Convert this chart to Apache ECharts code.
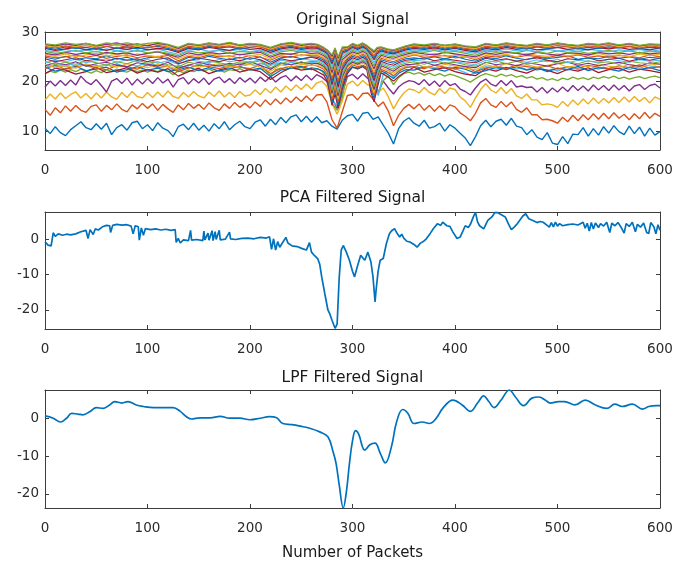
<!DOCTYPE html>
<html><head><meta charset="utf-8">
<script src="https://cdn.jsdelivr.net/npm/echarts@6/dist/echarts.min.js"></script>
<style>html,body{margin:0;padding:0;background:#fff}#c{width:686px;height:562px}</style>
</head><body><div id="c"></div>
<script>
// ---------- tick labels / axes ----------
const xTicks = [0, 100, 200, 300, 400, 500, 600];
const topYTicks = [10, 20, 30];
const pcaYTicks = [-20, -10, 0];
const lpfYTicks = [-20, -10, 0];
const titles = ['Original Signal', 'PCA Filtered Signal', 'LPF Filtered Signal'];
const xLabel = 'Number of Packets';
const matlabColors = ['#0072BD', '#D95319', '#EDB120', '#7E2F8E', '#77AC30', '#4DBEEE', '#A2142F'];

// ---------- Original signal: packet indices ----------
const topFineX = [];
for (let p = 0; p <= 600; p += 5) topFineX.push(p);
const topBandX = [0,10,20,30,40,50,60,70,80,90,100,110,120,130,140,150,160,170,180,190,200,210,220,230,240,250,260,
  266,272,276,280,283,286,290,295,300,305,310,314,318,321,324,328,334,340,346,352,
  360,370,380,390,400,410,420,430,440,450,460,470,480,490,500,510,520,530,540,550,560,570,580,590,600];

// ---------- Original signal: the six separated subcarriers (sampled every 5 packets) ----------
const sub01 = [10.6,9.5,10.9,9.7,9.1,10.3,11.1,11.9,10.7,10.3, 11.5,10.4,11.6,9.3,10.7,11.3,10.2,11.7,12.0,10.5,
  11.3,10.1,11.7,10.6,10.1,8.9,10.9,11.4,10.3,11.6, 10.2,11.2,10.0,11.5,10.5,11.9,10.3,11.3,12.0,10.9,
  10.5,11.8,12.3,11.0,12.4,11.3,12.8,11.7,12.9,13.3, 11.9,13.0,11.8,12.9,11.7,12.1,11.0,10.4,12.2,13.1,
  13.4,12.0,13.6,13.8,12.4,12.9,11.2,9.6,7.4,10.5, 12.0,12.7,11.6,11.0,12.2,10.6,10.9,11.6,10.0,11.3,
  10.6,9.6,8.6,7.1,8.9,11.1,12.2,10.9,12.0,12.4, 11.2,12.6,11.0,10.7,9.3,10.3,8.8,8.3,9.7,7.6,
  7.3,8.9,7.5,9.4,9.3,10.7,9.0,10.5,9.2,10.9, 9.6,11.1,9.9,9.3,11.0,9.5,10.8,9.0,10.6,9.2, 9.9];
const sub02 = [14.4,13.2,14.7,13.7,15.1,14.0,15.2,14.2,13.8,15.0, 15.3,14.0,15.2,14.3,15.5,14.4,13.9,15.3,14.5,15.6,
  14.6,15.5,14.2,15.4,14.5,13.8,15.3,14.3,15.6,14.6, 15.4,14.4,15.7,14.7,14.2,15.5,14.6,15.8,14.8,15.6,
  14.7,15.9,15.0,16.3,15.3,16.5,15.5,16.7,15.8,16.9, 16.0,17.1,16.1,17.3,17.4,15.9,12.3,10.6,13.9,17.2,
  17.4,16.3,17.6,17.7,16.5,15.0,15.9,14.0,11.1,13.2, 14.6,15.4,14.5,15.5,14.2,15.2,14.0,15.1,14.1,15.3,
  14.9,13.7,13.0,12.1,13.6,15.7,16.6,15.3,14.8,16.0, 14.9,15.9,14.4,13.8,14.7,13.3,13.3,12.3,12.4,12.1,
  11.6,12.8,11.9,13.2,12.1,13.3,12.3,13.5,12.4,13.6, 12.5,13.7,12.6,13.4,12.3,13.5,12.5,13.8,12.6,13.6, 13.0];
const sub03 = [16.3,17.5,16.5,17.7,16.6,17.4,17.9,16.7,17.6,16.5, 17.7,16.7,17.9,16.9,16.4,17.8,16.8,18.0,17.0,16.7,
  17.8,16.8,17.9,16.9,18.1,17.0,16.6,17.8,16.9,18.0, 17.1,16.7,17.9,17.0,18.1,16.9,17.8,16.8,18.0,17.1,
  17.3,18.3,17.4,18.6,17.7,18.9,17.9,19.1,18.2,19.3, 18.4,19.5,18.5,19.7,20.1,19.0,15.6,13.4,16.1,19.5,
  20.1,19.1,20.2,19.3,19.3,17.8,18.7,16.9,14.5,16.3, 17.7,18.5,18.3,17.7,18.8,17.8,17.3,18.6,17.6,18.7,
  18.4,16.9,16.1,14.8,16.7,18.4,19.6,18.3,17.7,18.8, 17.6,18.6,17.1,16.6,17.5,16.3,16.3,15.3,15.5,15.3,
  14.8,16.0,15.0,16.3,15.3,16.5,15.5,16.7,15.6,16.6, 15.7,16.8,15.8,16.9,15.9,17.0,16.0,16.8,15.7,16.9, 16.4];
const sub04 = [18.9,20.1,19.1,20.2,19.2,20.3,19.3,21.1,20.0,19.4, 20.4,19.2,17.9,20.1,20.6,19.6,20.7,19.3,20.5,19.5,
  20.6,19.6,20.8,19.7,20.5,18.9,20.4,20.8,19.5,20.6, 19.7,20.7,19.4,20.5,20.9,19.8,20.6,19.6,20.8,19.9,
  20.7,19.7,20.9,20.0,21.0,19.9,20.8,21.2,20.1,21.1, 20.2,21.3,20.3,21.4,20.9,20.0,16.6,14.6,17.6,21.0,
  21.5,20.5,21.6,20.6,19.3,17.8,20.1,18.7,17.5,18.9, 19.7,20.2,20.0,19.4,20.4,19.2,20.1,19.0,20.2,19.2,
  19.6,18.5,18.0,17.3,18.7,19.9,20.5,19.5,19.1,20.2, 19.2,20.2,18.9,19.1,18.8,18.9,17.9,18.8,17.7,18.7,
  17.9,18.9,18.0,19.2,18.2,19.1,18.1,19.3,18.3,19.2, 18.2,19.3,18.3,19.2,18.1,19.1,19.4,18.4,19.2,19.5, 18.7];
const sub05 = [21.6,22.1,21.8,22.3,21.9,22.4,22.0,22.5,22.1,21.7, 22.2,21.8,22.4,22.0,22.5,22.1,21.9,22.4,22.0,22.3,
  21.9,22.3,22.0,22.5,22.1,21.4,22.2,21.8,22.3,22.0, 22.4,22.1,22.5,22.0,22.3,21.9,22.4,22.2,22.6,22.1,
  22.5,22.2,22.6,22.3,21.2,22.4,22.7,22.3,22.8,22.5, 22.9,22.4,22.8,22.6,22.2,21.0,15.6,14.2,16.8,22.0,
  22.9,22.5,23.1,22.7,21.0,17.6,20.2,21.1,19.4,20.8, 21.6,21.9,21.5,21.8,21.3,21.7,21.2,21.6,21.1,21.5,
  21.2,20.8,20.4,19.9,20.6,21.2,21.6,21.3,21.0,21.5, 21.1,21.4,20.9,21.2,20.7,21.0,20.5,20.8,20.3,20.6,
  20.2,20.7,20.4,20.9,20.5,20.8,20.4,20.9,20.6,21.0, 20.7,21.1,20.6,20.9,20.5,20.8,21.0,20.6,20.9,21.1, 20.8];
const sub06 = [22.8,23.2,22.9,23.4,23.0,23.5,23.1,23.6,23.2,22.9, 23.3,23.0,23.5,23.1,23.6,23.2,22.9,23.4,23.1,23.5,
  23.2,23.6,23.1,23.5,23.0,22.3,23.3,22.9,23.4,23.1, 23.5,23.2,23.6,23.1,23.4,23.0,23.5,23.2,23.7,23.3,
  23.6,23.2,23.7,23.4,22.4,23.5,23.8,23.4,23.9,23.6, 24.0,23.5,23.9,23.7,23.3,22.4,16.5,15.0,18.2,23.4,
  24.1,23.6,24.2,23.8,21.8,17.2,21.5,22.4,20.8,22.1, 22.8,23.2,22.9,23.3,22.8,23.1,22.7,23.0,22.6,22.9,
  22.6,22.2,21.8,21.3,21.9,22.6,23.0,22.8,22.5,22.9, 22.6,22.9,22.5,22.8,22.4,22.7,22.3,22.6,22.2,22.5,
  22.1,22.6,22.3,22.8,22.4,22.7,22.3,22.8,22.5,22.9, 22.6,23.0,22.5,22.8,22.4,22.7,23.0,22.6,22.9,23.1, 22.8];

// ---------- Original signal: the dense band of subcarriers (sampled on topBandX) ----------
const sub07 = [21.6,22.7,22.3,21.5,22.0,22.9,21.8,22.2,22.8,21.7,22.4,21.9,22.6,21.1,22.0,22.7,21.6,22.3,22.9,21.9,22.5,22.0,20.4,21.8,22.9,22.3,22.6,
  22.0,21.3,19.8,15.2,17.5,14.6,18.5,21.6,22.9,22.6,23.0,22.4,17.8,15.9,18.6,21.8,21.0,20.1,21.2,22.0,
  22.9,21.9,22.4,22.8,22.0,21.5,21.2,22.6,22.1,22.9,22.2,21.7,22.6,22.3,21.6,22.5,22.1,22.8,21.8,22.4,22.7,21.9,22.5,22.2,21.8];
const sub08 = [22.9,22.1,22.6,23.1,22.2,22.5,22.9,21.9,22.4,23.0,22.3,22.7,22.0,22.4,22.9,22.2,22.8,22.1,22.6,23.1,22.3,22.7,21.0,22.3,22.7,23.1,22.4,
  22.6,22.0,20.6,15.8,18.4,15.3,19.2,22.1,23.0,22.7,23.2,22.8,18.4,16.6,19.3,22.2,21.5,20.6,21.8,22.4,
  22.3,23.0,22.6,22.1,22.9,22.5,21.7,22.2,22.9,22.4,23.0,22.3,22.8,22.0,22.7,22.4,23.1,22.2,22.8,22.5,22.1,22.9,22.4,22.8,22.2];
const sub09 = [22.6,23.3,22.5,22.9,23.4,22.7,22.4,23.2,23.0,22.5,23.4,22.8,23.1,22.0,22.7,23.3,23.0,22.6,23.2,22.9,22.6,23.3,21.6,22.6,23.1,22.8,23.4,
  23.1,22.5,21.2,16.4,19.0,15.9,19.9,22.4,23.4,23.0,23.3,22.9,19.0,17.2,19.8,22.5,21.9,21.2,22.2,22.8,
  23.0,22.6,23.3,22.9,22.5,23.1,22.0,22.7,23.2,22.6,23.3,23.0,22.7,23.2,22.5,23.0,22.7,23.3,22.9,22.6,23.2,22.8,23.4,22.7,23.0];
const sub10 = [23.5,22.8,23.2,22.7,23.6,23.0,23.3,22.9,23.6,23.2,22.8,23.5,23.0,22.5,23.4,22.9,23.3,23.6,22.8,23.2,23.5,22.9,22.1,23.4,22.9,23.5,23.2,
  23.4,22.8,21.6,17.0,19.6,16.5,20.4,22.9,23.6,23.3,23.7,23.2,19.6,17.8,20.3,22.9,22.3,21.7,22.6,23.1,
  23.7,23.0,22.8,23.5,23.1,22.7,22.4,23.4,22.9,23.6,23.0,23.4,22.9,23.3,23.7,22.9,23.3,23.0,23.6,23.1,22.8,23.5,23.0,23.3,23.6];
const sub11 = [23.2,23.8,23.4,24.0,23.1,23.6,23.9,23.3,23.0,23.8,23.5,23.1,23.9,22.7,23.3,23.9,23.4,23.1,23.7,23.4,24.0,23.3,22.5,23.7,23.4,23.9,23.6,
  23.7,23.1,22.0,17.6,20.2,17.1,20.9,23.2,23.9,23.5,24.0,23.5,20.2,18.4,20.8,23.2,22.7,22.1,23.0,23.4,
  23.5,23.9,23.3,23.8,23.4,23.0,22.8,23.9,23.4,23.7,23.2,23.8,23.5,23.1,23.6,23.9,23.3,23.7,23.2,23.6,23.9,23.4,23.1,23.8,23.5];
const sub12 = [24.1,23.4,23.9,23.5,24.2,23.8,23.3,24.0,23.6,24.3,23.7,24.0,23.4,23.0,23.9,23.5,24.1,23.8,23.4,24.0,23.7,24.2,22.8,23.6,24.2,23.7,24.1,
  24.0,23.4,22.4,18.2,20.8,17.7,21.4,23.5,24.2,23.8,24.3,23.8,20.8,19.0,21.3,23.5,23.0,22.5,23.3,23.7,
  24.0,23.5,24.2,23.7,23.9,23.4,23.1,23.8,24.2,23.6,24.1,23.5,23.9,24.3,23.7,24.0,23.6,24.2,23.8,24.0,23.5,24.1,23.8,23.6,24.0];
const sub13 = [23.8,24.3,24.0,24.5,23.8,24.2,24.6,23.9,24.4,24.0,24.5,23.7,24.2,23.5,24.4,24.1,23.8,24.5,24.0,24.3,23.9,24.4,23.2,24.3,24.0,24.6,24.3,
  24.3,23.7,22.8,18.8,21.3,18.3,21.9,23.8,24.5,24.1,24.6,24.1,21.3,19.6,21.8,23.8,23.3,22.9,23.6,24.0,
  24.3,24.1,23.8,24.4,24.0,23.7,23.4,24.3,23.9,24.5,24.2,23.9,24.4,24.0,24.5,23.8,24.3,24.1,23.9,24.5,24.2,23.9,24.4,24.1,24.3];
const sub14 = [24.6,24.0,24.4,24.8,24.2,24.5,24.1,24.7,24.3,24.6,24.0,24.5,24.8,23.6,24.2,24.7,24.4,24.0,24.6,24.2,24.8,24.4,23.5,24.6,24.2,24.5,24.9,
  24.6,24.0,23.2,19.4,21.9,18.9,22.4,24.1,24.8,24.4,24.9,24.4,21.9,20.2,22.3,24.1,23.6,23.3,23.9,24.3,
  24.5,24.8,24.2,24.6,24.3,24.0,23.8,24.7,24.3,24.6,24.1,24.5,24.8,24.3,24.0,24.6,24.4,24.8,24.2,24.5,24.7,24.1,24.6,24.3,24.7];
const sub15 = [24.9,24.5,25.1,24.4,24.8,24.6,25.2,24.5,24.9,24.3,24.8,25.1,24.4,23.9,24.9,24.5,25.1,24.7,24.4,24.9,24.5,25.0,23.9,24.8,25.1,24.6,25.0,
  24.9,24.3,23.6,20.0,22.4,19.5,22.9,24.4,25.1,24.7,25.2,24.7,22.4,20.8,22.8,24.4,24.0,23.7,24.2,24.6,
  24.8,24.5,25.0,24.6,25.1,24.5,24.1,24.9,24.6,25.2,24.7,24.4,25.0,24.6,24.9,25.2,24.5,24.8,24.6,25.1,24.7,25.0,24.5,24.9,24.7];
const sub16 = [25.2,24.8,25.0,25.4,24.9,25.3,24.7,25.1,25.4,24.8,25.2,24.9,25.3,24.2,25.1,24.8,25.4,25.0,25.2,24.7,25.3,24.9,24.3,25.2,24.9,25.4,25.2,
  25.2,24.6,24.0,20.6,23.0,20.1,23.4,24.7,25.4,25.0,25.5,25.0,22.9,21.4,23.3,24.7,24.3,24.0,24.5,24.9,
  25.4,24.9,25.1,25.3,24.8,25.0,24.4,25.2,25.0,25.4,24.9,25.3,25.1,24.8,25.3,25.0,25.4,24.9,25.2,24.9,25.3,25.1,24.8,25.4,25.0];
const sub17 = [25.5,25.1,25.6,25.0,25.4,25.7,25.2,25.5,25.1,25.6,25.3,25.0,25.6,24.6,25.4,25.1,25.7,25.3,25.0,25.6,25.2,25.5,24.6,25.4,25.7,25.2,25.6,
  25.5,24.9,24.3,21.2,23.5,20.7,23.9,25.0,25.7,25.3,25.8,25.3,23.4,22.0,23.8,25.0,24.6,24.4,24.8,25.2,
  25.5,25.2,25.7,25.1,25.4,25.0,24.7,25.6,25.2,25.5,25.0,25.7,25.3,25.1,25.6,25.2,25.5,25.3,25.7,25.2,25.4,25.0,25.6,25.3,25.5];
const sub18 = [25.7,25.4,25.9,25.5,25.8,25.3,25.9,25.6,25.8,25.3,25.7,26.0,25.5,24.9,25.8,25.4,25.9,25.6,25.8,25.4,25.7,25.9,24.9,25.7,25.5,26.0,25.7,
  25.8,25.2,24.6,21.8,24.0,21.3,24.4,25.3,26.0,25.6,26.1,25.6,23.9,22.6,24.3,25.3,24.9,24.7,25.1,25.5,
  25.9,25.6,25.4,25.9,25.6,25.3,25.0,25.8,25.5,25.9,25.7,25.4,25.9,25.6,25.3,25.8,25.7,25.4,25.9,25.6,25.8,25.5,25.9,25.6,25.8];
const sub19 = [26.1,25.7,26.0,26.3,25.8,26.1,25.6,26.2,25.9,26.3,25.8,26.1,25.7,25.2,26.2,25.8,26.0,26.3,25.7,26.1,25.9,26.2,25.2,26.0,26.3,25.9,26.2,
  26.1,25.5,24.9,22.4,24.5,21.9,24.9,25.6,26.3,25.9,26.4,25.9,24.4,23.2,24.8,25.6,25.2,25.0,25.4,25.8,
  26.1,25.9,26.3,25.8,26.1,25.7,25.3,26.2,25.9,26.1,25.8,26.3,26.0,25.7,26.2,25.9,26.1,25.7,26.0,26.3,25.9,26.2,25.8,26.1,26.0];
const sub20 = [26.3,26.0,26.5,26.1,26.4,26.0,26.6,26.2,26.5,26.1,26.4,26.6,26.0,25.5,26.3,26.6,26.1,26.4,26.2,26.5,26.0,26.4,25.6,26.3,26.6,26.2,26.5,
  26.4,25.8,25.2,23.0,25.0,22.5,25.3,25.9,26.6,26.2,26.7,26.2,24.9,23.8,25.2,25.9,25.5,25.3,25.7,26.1,
  26.4,26.2,26.5,26.1,26.3,26.0,25.7,26.4,26.1,26.6,26.2,26.4,26.0,26.5,26.2,26.4,26.1,26.5,26.3,26.0,26.4,26.2,26.5,26.1,26.4];
const sub21 = [26.7,26.3,26.6,26.9,26.4,26.7,26.3,26.8,26.5,26.9,26.4,26.7,26.5,25.9,26.7,26.4,26.9,26.6,26.3,26.8,26.5,26.7,25.9,26.6,26.9,26.5,26.8,
  26.7,26.1,25.5,23.6,25.5,23.1,25.7,26.2,26.9,26.5,27.0,26.5,25.4,24.4,25.6,26.2,25.8,25.6,26.0,26.4,
  26.7,26.5,26.8,26.4,26.7,26.3,26.0,26.7,26.4,26.9,26.5,26.8,26.4,26.6,26.9,26.5,26.7,26.4,26.8,26.6,26.9,26.5,26.7,26.4,26.8];
const sub22 = [26.9,26.5,27.0,26.7,26.9,26.5,27.1,26.7,27.0,26.6,26.9,27.1,26.7,26.1,26.9,26.6,27.1,26.8,27.0,26.6,26.9,27.1,26.2,26.8,27.1,26.7,27.0,
  26.9,26.3,25.7,24.0,25.8,23.5,26.0,26.4,27.1,26.7,27.2,26.7,25.7,24.8,25.9,26.4,26.0,25.8,26.2,26.6,
  26.9,26.7,27.0,26.6,26.9,26.5,26.3,26.9,26.7,27.1,26.8,26.6,27.0,26.7,26.9,27.1,26.6,26.9,26.7,27.0,26.8,27.1,26.7,26.9,26.8];
const sub23 = [27.1,26.8,27.2,26.9,27.3,26.8,27.1,27.4,26.9,27.2,26.8,27.3,27.0,26.3,27.1,26.9,27.3,27.0,27.2,26.8,27.3,27.0,26.4,27.1,27.3,26.9,27.2,
  27.1,26.5,25.9,24.4,26.1,23.9,26.3,26.6,27.3,26.9,27.4,26.9,26.0,25.2,26.2,26.6,26.2,26.0,26.4,26.8,
  27.1,26.9,27.3,26.8,27.1,26.7,26.5,27.1,26.9,27.3,27.0,26.8,27.2,26.9,27.3,27.0,26.8,27.2,27.0,27.3,26.9,27.1,26.8,27.2,27.0];
const sub24 = [27.3,27.0,27.5,27.1,27.4,27.0,27.6,27.2,27.5,27.1,27.4,27.6,27.1,26.5,27.4,27.1,27.5,27.2,27.6,27.1,27.4,27.2,26.6,27.3,27.6,27.1,27.5,
  27.3,26.7,26.1,24.8,26.4,24.3,26.6,26.8,27.5,27.1,27.6,27.1,26.3,25.6,26.5,26.8,26.4,26.2,26.6,27.0,
  27.3,27.1,27.5,27.0,27.3,26.9,26.7,27.4,27.1,27.5,27.2,27.0,27.4,27.1,27.5,27.2,27.0,27.4,27.2,27.5,27.1,27.4,27.0,27.4,27.2];
const sub25 = [27.5,27.2,27.6,27.3,27.7,27.2,27.5,27.8,27.3,27.6,27.2,27.7,27.4,26.7,27.6,27.3,27.7,27.4,27.8,27.3,27.6,27.4,26.8,27.5,27.8,27.3,27.6,
  27.4,26.8,26.2,25.1,26.6,24.7,26.8,26.9,27.6,27.2,27.7,27.2,26.5,25.9,26.7,26.9,26.5,26.3,26.7,27.1,
  27.5,27.2,27.6,27.3,27.5,27.1,26.9,27.6,27.3,27.7,27.4,27.2,27.6,27.3,27.7,27.4,27.2,27.6,27.4,27.7,27.3,27.6,27.2,27.5,27.4];
const sub26 = [27.6,27.4,27.8,27.5,27.7,27.3,27.8,27.5,27.8,27.4,27.7,27.9,27.5,26.9,27.7,27.4,27.8,27.5,27.9,27.4,27.7,27.5,26.9,27.6,27.9,27.5,27.7,
  27.5,26.9,26.3,25.4,26.8,25.0,27.0,27.0,27.7,27.3,27.8,27.3,26.7,26.2,26.9,27.0,26.6,26.4,26.8,27.2,
  27.6,27.4,27.7,27.3,27.6,27.2,27.0,27.7,27.4,27.8,27.5,27.3,27.7,27.4,27.8,27.5,27.3,27.7,27.5,27.8,27.4,27.7,27.3,27.6,27.5];

// ---------- PCA filtered signal: [packet, value] ----------
const pcaSignal = [[0,-0.7],[3,-1.6],[6,-1.8],[8,1.9],[10,0.9],[13,1.6],[17,1.2],[21,1.5],[25,1.3],[30,1.6],
  [35,2.2],[40,2.6],[42,0.3],[44,2.8],[47,1.4],[49,3.0],[52,2.7],[56,3.6],[60,4.0],[63,3.9],
  [64,2.0],[66,4.0],[70,4.3],[75,4.1],[80,4.2],[84,3.8],[86,1.6],[88,3.9],[91,3.6],[92,-0.2],
  [94,3.3],[96,1.2],[98,3.1],[103,2.8],[108,3.0],[113,2.7],[118,2.9],[123,2.6],[127,2.8],[128,-0.8],
  [130,0.3],[132,-1.0],[135,-0.1],[140,-0.3],[142,2.6],[143,-0.2],[148,0.0],[154,-0.3],[155,2.4],[156,-0.1],
  [159,1.8],[160,-0.2],[163,2.5],[164,-0.3],[166,2.2],[167,0.0],[170,2.6],[171,-0.1],[176,0.1],[180,2.1],
  [181,0.2],[186,0.0],[192,0.3],[198,0.4],[204,0.2],[210,0.6],[216,0.4],[219,0.8],[221,-2.8],[223,0.2],
  [225,-3.0],[227,-0.6],[229,-2.2],[232,-0.8],[235,0.6],[237,-1.0],[241,-1.8],[246,-2.0],[251,-2.6],[255,-3.0],
  [258,-0.9],[260,-3.6],[263,-4.6],[266,-5.4],[268,-7.0],[270,-10.7],[273,-15.4],[276,-20.0],[278,-21.2],[280,-22.9],
  [283,-25.2],[285,-24.0],[287,-11.0],[289,-3.0],[291,-1.7],[294,-3.6],[297,-5.9],[300,-9.0],[302,-10.6],[305,-7.4],
  [308,-4.5],[312,-5.9],[315,-3.6],[318,-6.4],[320,-10.6],[322,-17.7],[323,-14.4],[325,-9.0],[327,-5.9],[330,-5.4],
  [333,-1.2],[336,1.6],[338,2.4],[341,3.1],[343,2.0],[346,0.7],[348,1.5],[350,0.4],[353,-0.5],[356,-0.7],
  [360,-1.4],[363,-2.2],[366,-1.1],[369,-0.6],[372,0.2],[376,1.8],[379,3.1],[383,4.5],[386,4.0],[388,4.9],
  [392,3.9],[395,3.7],[398,2.1],[402,0.3],[405,0.7],[408,2.6],[410,3.9],[413,3.4],[415,4.3],[418,6.5],
  [420,7.7],[422,5.0],[424,3.9],[428,3.0],[432,5.4],[436,6.4],[439,7.7],[442,7.6],[444,7.2],[449,6.4],
  [452,4.5],[455,2.8],[458,3.6],[460,4.2],[463,5.4],[466,6.6],[469,7.3],[472,5.9],[476,5.4],[480,4.8],
  [483,5.1],[486,4.9],[489,4.2],[492,3.5],[494,4.8],[496,3.6],[498,4.9],[500,3.8],[502,4.5],[505,3.9],
  [510,4.2],[515,4.4],[520,4.1],[525,4.9],[527,3.2],[529,4.6],[531,2.4],[533,4.8],[535,3.0],[537,4.7],
  [540,3.4],[542,4.5],[545,3.8],[548,4.9],[551,2.0],[553,4.6],[556,3.9],[559,4.8],[562,3.5],[565,1.8],
  [567,4.5],[570,3.7],[573,4.9],[576,2.2],[578,4.3],[581,3.5],[584,4.7],[587,2.0],[589,1.7],[591,4.8],
  [594,3.6],[596,1.6],[598,4.2],[600,2.6]];

// ---------- LPF filtered signal: [packet, value] ----------
const lpfSignal = [[0,0.6],[8,0],[15,-1.0],[21,0],[26,1.3],[32,1.1],[37,0.9],[44,1.8],[50,2.8],[57,2.6],
  [63,3.5],[68,4.4],[75,4.0],[81,4.4],[89,3.5],[96,3.1],[106,2.8],[119,2.8],[125,2.8],[132,1.8],
  [138,0.4],[143,-0.2],[151,0.1],[161,0.1],[171,0.5],[180,0],[190,0],[200,-0.4],[210,0],[219,0.4],
  [226,0.1],[232,-1.4],[241,-1.7],[249,-2.1],[259,-2.7],[268,-3.6],[276,-4.9],[281,-8.8],[284,-12.0],[287,-17.5],
  [291,-23.7],[294,-19.5],[297,-12.0],[300,-6.0],[303,-3.3],[306,-4.2],[312,-8.4],[317,-7.0],[322,-6.6],[327,-9.2],
  [332,-11.8],[338,-7.5],[343,-1.0],[349,2.3],[354,1.3],[360,-1.4],[368,-1.0],[375,-1.4],[382,0.1],[388,2.6],
  [398,4.8],[407,3.5],[415,1.8],[422,4.0],[428,5.9],[433,4.4],[438,2.8],[445,4.8],[453,7.45],[459,5.6],
  [467,3.3],[475,5.3],[482,5.6],[488,4.8],[493,4.0],[501,4.4],[507,4.4],[517,3.5],[527,4.8],[537,3.5],
  [548,2.6],[556,3.7],[563,3.1],[573,3.7],[583,2.4],[589,3.1],[597,3.3],[600,3.3]];

// ---------- checks ----------
const lowSubs = [sub01, sub02, sub03, sub04, sub05, sub06];
const bandSubs = [sub07, sub08, sub09, sub10, sub11, sub12, sub13, sub14, sub15, sub16,
  sub17, sub18, sub19, sub20, sub21, sub22, sub23, sub24, sub25, sub26];
lowSubs.forEach((a, i) => { if (a.length !== topFineX.length) throw new Error('low sub ' + (i + 1) + ' len ' + a.length); });
bandSubs.forEach((a, i) => { if (a.length !== topBandX.length) throw new Error('band sub ' + (i + 7) + ' len ' + a.length + ' vs ' + topBandX.length); });

// ---------- chart ----------
const FONT = 'DejaVu Sans';
const AX = '#3c3c3c';
const TXT = '#2b2b2b';
const G = [
  { left: 45, top: 32, width: 615, height: 118, ymin: 6.2, ymax: 30, yt: topYTicks },
  { left: 45, top: 212, width: 615, height: 117, ymin: -25.4, ymax: 7.8, yt: pcaYTicks },
  { left: 45, top: 390, width: 615, height: 118, ymin: -23.7, ymax: 7.45, yt: lpfYTicks }
];
const grids = [], xAxes = [], yAxes = [];
G.forEach((g, i) => {
  grids.push({ left: g.left, top: g.top, width: g.width, height: g.height, show: false, containLabel: false });
  ['bottom', 'top'].forEach((pos) => {
    xAxes.push({
      type: 'value', gridIndex: i, position: pos, min: 0, max: 600,
      axisLine: { show: true, onZero: false, lineStyle: { color: AX, width: 1 } },
      axisTick: { show: true, inside: true, length: 4, customValues: xTicks, lineStyle: { color: AX } },
      axisLabel: { show: pos === 'bottom', customValues: xTicks, margin: 13, color: TXT, fontFamily: FONT, fontSize: 13.5 },
      splitLine: { show: false }
    });
  });
  ['left', 'right'].forEach((pos) => {
    yAxes.push({
      type: 'value', gridIndex: i, position: pos, min: g.ymin, max: g.ymax,
      axisLine: { show: true, onZero: false, lineStyle: { color: AX, width: 1 } },
      axisTick: { show: true, inside: true, length: 4, customValues: g.yt, lineStyle: { color: AX } },
      axisLabel: { show: pos === 'left', customValues: g.yt, margin: 6, color: TXT, fontFamily: FONT, fontSize: 13.5 },
      splitLine: { show: false }
    });
  });
});

const series = [];
lowSubs.forEach((arr, i) => {
  series.push({
    type: 'line', xAxisIndex: 0, yAxisIndex: 0, showSymbol: false, symbol: 'none', silent: true,
    data: arr.map((v, k) => [topFineX[k], v]),
    lineStyle: { width: 1.4, color: matlabColors[i % 7] }, itemStyle: { color: matlabColors[i % 7] }
  });
});
bandSubs.forEach((arr, j) => {
  const c = matlabColors[(j + 6) % 7];
  series.push({
    type: 'line', xAxisIndex: 0, yAxisIndex: 0, showSymbol: false, symbol: 'none', silent: true,
    data: arr.map((v, k) => [topBandX[k], v]),
    lineStyle: { width: 1.2, color: c }, itemStyle: { color: c }
  });
});
series.push({
  type: 'line', xAxisIndex: 2, yAxisIndex: 2, showSymbol: false, symbol: 'none', silent: true,
  data: pcaSignal, lineStyle: { width: 1.7, color: matlabColors[0] }, itemStyle: { color: matlabColors[0] }
});
series.push({
  type: 'line', xAxisIndex: 4, yAxisIndex: 4, showSymbol: false, symbol: 'none', silent: true, smooth: 0.4,
  data: lpfSignal, lineStyle: { width: 1.7, color: matlabColors[0] }, itemStyle: { color: matlabColors[0] }
});

const txt = (t, x, y, size) => ({
  type: 'text', x: x, y: y, silent: true,
  style: { text: t, font: size + 'px "' + FONT + '"', fill: '#1a1a1a', textAlign: 'center', textVerticalAlign: 'middle' }
});

const chart = echarts.init(document.getElementById('c'), null, { renderer: 'canvas' });
chart.setOption({
  animation: false,
  backgroundColor: '#ffffff',
  grid: grids, xAxis: xAxes, yAxis: yAxes, series: series,
  graphic: [
    txt(titles[0], 352.5, 20, 15.5),
    txt(titles[1], 352.5, 198, 15.5),
    txt(titles[2], 352.5, 378, 15.5),
    txt(xLabel, 352.5, 553, 15)
  ]
});
</script>
</body></html>
